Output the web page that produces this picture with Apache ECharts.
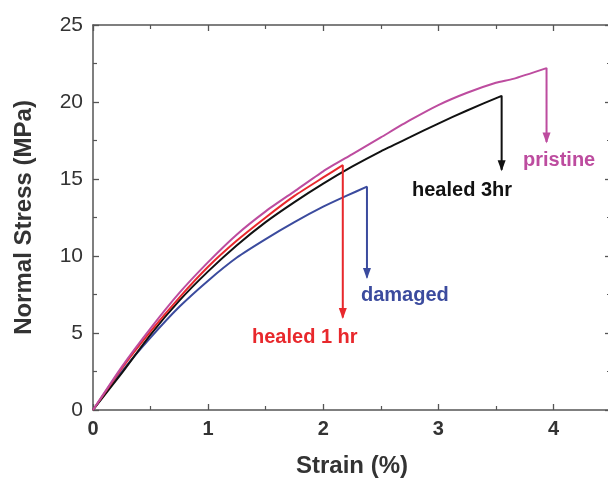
<!DOCTYPE html>
<html><head><meta charset="utf-8">
<script src="https://cdn.jsdelivr.net/npm/echarts@6/dist/echarts.min.js"></script>
<style>html,body{margin:0;padding:0;background:#fff}#c{width:608px;height:485px}</style>
</head><body><div id="c"></div>
<script>
// Strain (%) / Normal stress (MPa) readings
const pristineStrain = [0, 0.25, 0.5, 0.75, 1.0, 1.25, 1.5, 1.75, 2.0, 2.25, 2.5, 2.75, 3.0, 3.25, 3.5, 3.65, 3.94];
const pristineStress = [0, 2.8, 5.3, 7.6, 9.6, 11.4, 12.9, 14.2, 15.5, 16.6, 17.7, 18.8, 19.8, 20.6, 21.25, 21.5, 22.2];
const pristineDrop = 17.4;

const healed3Strain = [0, 0.25, 0.5, 0.75, 1.0, 1.25, 1.5, 1.75, 2.0, 2.25, 2.5, 2.75, 3.0, 3.25, 3.55];
const healed3Stress = [0, 2.4, 4.9, 7.1, 9.0, 10.7, 12.2, 13.5, 14.7, 15.8, 16.8, 17.7, 18.6, 19.45, 20.4];
const healed3Drop = 15.6;

const healed1Strain = [0, 0.25, 0.5, 0.75, 1.0, 1.25, 1.5, 1.75, 2.0, 2.17];
const healed1Stress = [0, 2.7, 5.1, 7.3, 9.3, 11.0, 12.5, 13.9, 15.1, 15.9];
const healed1Drop = 6.0;

const damagedStrain = [0, 0.25, 0.5, 0.75, 1.0, 1.25, 1.5, 1.75, 2.0, 2.2, 2.38];
const damagedStress = [0, 2.5, 4.7, 6.7, 8.4, 9.9, 11.1, 12.2, 13.2, 13.9, 14.5];
const damagedDrop = 8.6;

const xTicks = [0, 1, 2, 3, 4];
const yTicks = [0, 5, 10, 15, 20, 25];

function buildData(xs, ys, drop) {
  const d = xs.map((x, i) => ({ value: [x, ys[i]], symbol: 'none' }));
  d.push({ value: [xs[xs.length - 1], drop], symbol: 'triangle', symbolSize: [8, 11], symbolRotate: 180, symbolOffset: [0, -4] });
  return d;
}

const C = { pristine: '#bd4c9f', h3: '#111111', h1: '#e8282c', dmg: '#3b4b9e' };

function mkSeries(name, xs, ys, drop, color, z) {
  return {
    name, type: 'line', data: buildData(xs, ys, drop), smooth: 0.2,
    symbol: 'none', showSymbol: true, showAllSymbol: true,
    lineStyle: { color, width: 2 }, itemStyle: { color },
    z, animation: false
  };
}

const chart = echarts.init(document.getElementById('c'));
const axisColor = '#555';
const xBase = {
  type: 'value', min: 0, max: 4.5, interval: 1,
  axisLine: { show: true, onZero: false, lineStyle: { color: axisColor, width: 1.5 } },
  axisTick: { show: true, inside: true, length: 6, lineStyle: { color: axisColor, width: 1.3 } },
  minorTick: { show: true, splitNumber: 2, length: 4, lineStyle: { color: axisColor, width: 1.2 } },
  splitLine: { show: false }
};
const yBase = {
  type: 'value', min: 0, max: 25, interval: 5,
  axisLine: { show: true, onZero: false, lineStyle: { color: axisColor, width: 1.5 } },
  axisTick: { show: true, inside: true, length: 6, lineStyle: { color: axisColor, width: 1.3 } },
  minorTick: { show: true, splitNumber: 2, length: 4, lineStyle: { color: axisColor, width: 1.2 } },
  splitLine: { show: false }
};

chart.setOption({
  backgroundColor: '#fff',
  animation: false,
  grid: { left: 93, top: 25, width: 518, height: 385, containLabel: false, outerBoundsMode: 'none' },
  xAxis: [
    Object.assign({}, xBase, {
      position: 'bottom',
      name: 'Strain (%)', nameLocation: 'middle', nameGap: 44,
      nameTextStyle: { fontFamily: 'Liberation Sans', fontWeight: 'bold', fontSize: 24, color: '#333' },
      axisLabel: { fontFamily: 'Liberation Sans', fontWeight: 'bold', fontSize: 20, color: '#333', margin: 9,
        formatter: v => xTicks.includes(v) ? String(v) : '' }
    }),
    Object.assign({}, xBase, { position: 'top', axisLabel: { show: false } })
  ],
  yAxis: [
    Object.assign({}, yBase, {
      position: 'left',
      name: 'Normal Stress (MPa)', nameLocation: 'middle', nameGap: 57,
      nameTextStyle: { fontFamily: 'Liberation Sans', fontWeight: 'bold', fontSize: 24, color: '#333' },
      axisLabel: { fontFamily: 'Liberation Sans', fontSize: 21, color: '#333', margin: 10,
        formatter: v => yTicks.includes(v) ? String(v) : '' }
    }),
    Object.assign({}, yBase, { position: 'right', axisLabel: { show: false } })
  ],
  series: [
    mkSeries('damaged', damagedStrain, damagedStress, damagedDrop, C.dmg, 2),
    mkSeries('healed 3hr', healed3Strain, healed3Stress, healed3Drop, C.h3, 3),
    mkSeries('healed 1 hr', healed1Strain, healed1Stress, healed1Drop, C.h1, 4),
    mkSeries('pristine', pristineStrain, pristineStress, pristineDrop, C.pristine, 5)
  ],
  graphic: [
    { type: 'text', left: 523, top: 150, style: { text: 'pristine', fill: C.pristine, font: 'bold 20px "Liberation Sans"' } },
    { type: 'text', left: 412, top: 180, style: { text: 'healed 3hr', fill: C.h3, font: 'bold 20px "Liberation Sans"' } },
    { type: 'text', left: 361, top: 285, style: { text: 'damaged', fill: C.dmg, font: 'bold 20px "Liberation Sans"' } },
    { type: 'text', left: 252, top: 327, style: { text: 'healed 1 hr', fill: C.h1, font: 'bold 20px "Liberation Sans"' } }
  ]
});
</script></body></html>
